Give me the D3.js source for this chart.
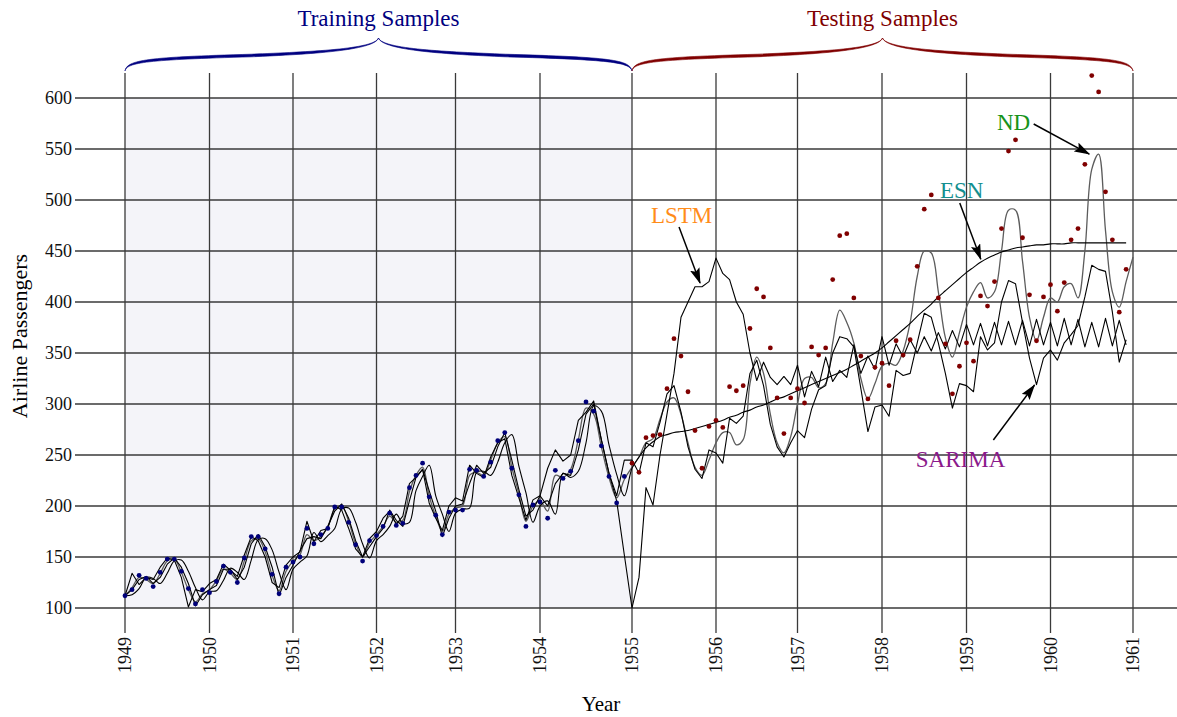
<!DOCTYPE html>
<html>
<head>
<meta charset="utf-8">
<title>Airline passengers - model forecasts</title>
<script src="https://cdn.jsdelivr.net/npm/d3@7"></script>
<style>
  body { margin: 0; background: #fff; }
  text { font-family: "Liberation Serif", "Times New Roman", serif; }
</style>
</head>
<body>
<div id="chart"></div>
<script>
// monthly values, Jan 1949 .. Dec 1960
var passengers = [
  112,118,132,129,121,135,148,148,136,119,104,118,
  115,126,141,135,125,149,170,170,158,133,114,140,
  145,150,178,163,172,178,199,199,184,162,146,166,
  171,180,193,181,183,218,230,242,209,191,172,194,
  196,196,236,235,229,243,264,272,237,211,180,201,
  204,188,235,227,234,264,302,293,259,229,203,229,
  242,233,267,269,270,315,364,347,312,274,237,278,
  284,277,317,313,318,374,413,405,355,306,271,306,
  315,301,356,348,355,422,465,467,404,347,305,336,
  340,318,362,348,363,435,491,505,404,359,310,337,
  360,342,406,396,420,472,548,559,463,407,362,405,
  417,391,419,461,472,535,622,606,508,461,390,432];

var sarima = [
  112,118,128,131,124,130,143,149,140,124,102,113,
  118,122,138,138,128,140,163,172,160,140,112,130,
  142,156,168,170,168,180,195,202,188,166,150,160,
  170,178,196,186,180,205,228,236,215,195,170,188,
  200,202,222,240,232,238,258,272,245,216,190,196,
  210,200,222,232,230,255,290,300,265,232,210,245,
  245,232,262,258,282,310,318,292,258,236,227,255,
  252,242,286,281,288,330,343,318,280,258,248,262,
  274,267,295,314,318,350,366,364,356,315,273,297,
  299,288,333,328,330,360,389,385,360,330,296,320,
  318,312,366,353,360,400,421,418,380,345,319,345,
  353,343,360,368,377,405,436,432,430,390,341,363];

var esn = [
  112,113,119,130,129,124,134,146,147,136,120,108,
  116,117,127,139,135,128,147,167,168,157,135,118,
  138,145,151,174,165,171,178,197,198,184,163,149,
  166,172,180,192,183,184,215,229,240,210,192,175,
  193,197,198,233,234,230,243,262,270,239,213,184,
  200,205,192,232,228,234,262,298,293,260,231,210,
  237,248,257,263,268,270,272,273,274,276,278,280,
  282,284,287,289,292,294,297,299,302,305,307,310,
  313,316,319,322,325,328,331,334,338,342,346,350,
  355,361,367,373,379,386,392,398,405,411,417,423,
  429,434,439,443,446,449,451,453,454,455,456,456,
  457,457,457,458,458,458,458,458,458,458,458,458];

var lstm = [
  112,134,123,130,128,140,149,147,130,101,118,116,
  124,128,143,137,131,152,170,166,150,125,120,142,
  150,155,185,165,176,178,200,196,178,158,150,168,
  175,188,195,182,190,222,228,236,203,188,176,200,
  208,205,240,232,228,248,262,266,230,208,186,206,
  210,237,255,244,250,284,292,303,265,232,205,152,
  100,130,218,201,250,290,330,385,400,415,415,420,
  443,428,422,400,388,350,323,341,326,319,327,319,
  338,307,332,317,346,322,333,326,358,330,347,334,
  366,338,359,346,363,350,366,352,370,354,372,356,
  378,358,379,357,380,358,381,358,382,357,383,358,
  380,357,384,358,383,356,380,356,384,357,382,358];

// ND runs one month further (Jan 1961)
var nd = [
  112,120,130,128,124,134,146,148,135,118,106,114,
  118,127,138,134,128,146,166,168,155,132,117,136,
  146,152,172,166,170,180,197,200,185,163,150,164,
  172,180,190,184,186,214,230,238,210,190,175,192,
  198,200,230,233,230,245,262,268,238,212,185,200,
  205,195,230,228,236,265,296,290,258,228,208,226,
  238,248,262,266,285,302,306,290,262,238,230,245,
  262,272,272,260,265,320,346,330,290,262,252,268,
  300,325,326,316,320,360,392,380,360,325,305,320,
  337,340,338,352,380,425,450,448,410,365,346,370,
  395,410,419,404,410,450,490,490,440,385,362,385,
  404,400,415,418,404,450,530,545,470,410,395,420,
  444];

var yearTicks = [1949,1950,1951,1952,1953,1954,1955,1956,1957,1958,1959,1960,1961];
var valueTicks = [100,150,200,250,300,350,400,450,500,550,600];
var splitYear = 1955;

var W = 1177, H = 717;
var svg = d3.select("#chart").append("svg")
  .attr("width", W).attr("height", H);

// year ticks in the original are not quite evenly spaced
var x = d3.scaleLinear()
  .domain(yearTicks)
  .range([125, 209.5, 293, 376.5, 455.5, 540, 632, 716, 797.5, 882, 966.5, 1050.5, 1133]);
var y = d3.scaleLinear().domain([100, 600]).range([608, 98]);
var monthX = function(i) { return x(1949 + i / 12); };

var gridTop = 73, tickBottom = 633, gridLeft = 75;
var gridColor = "#3a3a3a";

// training background
svg.append("rect")
  .attr("x", x(1949)).attr("y", y(600))
  .attr("width", x(splitYear) - x(1949))
  .attr("height", y(100) - y(600))
  .attr("fill", "#f4f4f9");

// horizontal grid + labels
svg.append("g").selectAll("line").data(valueTicks).join("line")
  .attr("x1", gridLeft).attr("x2", W)
  .attr("y1", function(d) { return y(d); }).attr("y2", function(d) { return y(d); })
  .attr("stroke", gridColor).attr("stroke-width", 1.3);
svg.append("g").selectAll("text").data(valueTicks).join("text")
  .attr("x", gridLeft - 3).attr("y", function(d) { return y(d); })
  .attr("dy", "0.35em").attr("text-anchor", "end")
  .attr("font-size", 18).attr("fill", "#111")
  .text(function(d) { return d; });

// vertical grid + year labels
svg.append("g").selectAll("line").data(yearTicks).join("line")
  .attr("x1", function(d) { return x(d); }).attr("x2", function(d) { return x(d); })
  .attr("y1", gridTop).attr("y2", tickBottom)
  .attr("stroke", gridColor).attr("stroke-width", 1.3);
svg.append("g").selectAll("text").data(yearTicks).join("text")
  .attr("transform", function(d) { return "translate(" + x(d) + "," + (tickBottom + 4) + ") rotate(-90)"; })
  .attr("dy", "0.35em").attr("text-anchor", "end")
  .attr("font-size", 18).attr("fill", "#111")
  .text(function(d) { return d; });

// axis titles
svg.append("text")
  .attr("transform", "translate(27,336) rotate(-90)")
  .attr("text-anchor", "middle").attr("font-size", 22)
  .text("Airline Passengers");
svg.append("text")
  .attr("x", 601).attr("y", 711)
  .attr("text-anchor", "middle").attr("font-size", 21)
  .text("Year");

// model lines
var straight = d3.line()
  .x(function(d, i) { return monthX(i); })
  .y(function(d) { return y(d); });
var smooth = d3.line()
  .x(function(d, i) { return monthX(i); })
  .y(function(d) { return y(d); })
  .curve(d3.curveCatmullRom.alpha(0.5));

var models = [
  { values: nd,     gen: smooth,   color: "#5c5c5c", width: 1.3 },
  { values: esn,    gen: smooth,   color: "#000",    width: 1.1 },
  { values: sarima, gen: straight, color: "#000",    width: 1.1 },
  { values: lstm,   gen: straight, color: "#000",    width: 1.1 }
];
svg.append("g").selectAll("path").data(models).join("path")
  .attr("d", function(m) { return m.gen(m.values); })
  .attr("fill", "none")
  .attr("stroke", function(m) { return m.color; })
  .attr("stroke-width", function(m) { return m.width; })
  .attr("stroke-linejoin", "round");

// samples
var pts = passengers.map(function(v, i) { return { i: i, v: v, test: 1949 + i / 12 >= splitYear }; });
svg.append("g").selectAll("circle").data(pts).join("circle")
  .attr("cx", function(d) { return monthX(d.i); })
  .attr("cy", function(d) { return y(d.v); })
  .attr("r", 2.4)
  .attr("fill", function(d) { return d.test ? "#800000" : "#00007a"; });

// curly braces over the two periods
function brace(x1, x2, color) {
  var xm = (x1 + x2) / 2, yEnd = 71, yTip = 38, d = 1.3;
  function half(flip) {
    var f = function(px) { return flip ? x1 + x2 - px : px; };
    var xq = x1 + (xm - x1) * 0.5;
    function edge(o) {
      return [
        [f(x1 + 2), 61 + o], [f(x1 + 22), 58.5 + o], [f(xq), 55.5 + o],
        [f(xm - 70), 53 + o], [f(xm - 4), 50 + o * 0.5]
      ];
    }
    var t = edge(-d), b = edge(d);
    return "M" + f(x1) + "," + yEnd +
      "C" + t[0] + " " + t[1] + " " + t[2] +
      "C" + t[3] + " " + t[4] + " " + f(xm) + "," + yTip +
      "C" + b[4] + " " + b[3] + " " + b[2] +
      "C" + b[1] + " " + b[0] + " " + f(x1) + "," + yEnd + "Z";
  }
  svg.append("path").attr("d", half(false) + half(true))
    .attr("fill", color).attr("stroke", color).attr("stroke-width", 0.6);
}
brace(x(1949), x(splitYear), "#000080");
brace(x(splitYear), x(1961), "#800000");

svg.append("text").attr("x", (x(1949) + x(splitYear)) / 2).attr("y", 26)
  .attr("text-anchor", "middle").attr("font-size", 23).attr("fill", "#000080")
  .text("Training Samples");
svg.append("text").attr("x", (x(splitYear) + x(1961)) / 2).attr("y", 26)
  .attr("text-anchor", "middle").attr("font-size", 23).attr("fill", "#800000")
  .text("Testing Samples");

// model annotations (year, passengers)
var notes = [
  { label: "LSTM",   color: "#ff8c1a", at: [1955.226, 477.5], from: [1955.56, 473.5], to: [1955.81, 418.6] },
  { label: "ND",     color: "#17931a", at: [1959.363, 568.6], from: [1959.80, 574.5], to: [1960.47, 545] },
  { label: "ESN",    color: "#148f8f", at: [1958.686, 502],   from: [1958.92, 497],   to: [1959.17, 442] },
  { label: "SARIMA", color: "#8b1a8b", at: [1958.40, 238.2],  from: [1959.32, 264.7], to: [1959.81, 318.6] }
];

svg.append("defs").append("marker")
  .attr("id", "head").attr("viewBox", "0 -5 16 10")
  .attr("refX", 15).attr("refY", 0)
  .attr("markerUnits", "userSpaceOnUse")
  .attr("markerWidth", 16).attr("markerHeight", 10)
  .attr("orient", "auto")
  .append("path").attr("d", "M0,-5L16,0L0,5L3,0Z").attr("fill", "#000");

var ann = svg.append("g");
ann.selectAll("line").data(notes).join("line")
  .attr("x1", function(d) { return x(d.from[0]); }).attr("y1", function(d) { return y(d.from[1]); })
  .attr("x2", function(d) { return x(d.to[0]); }).attr("y2", function(d) { return y(d.to[1]); })
  .attr("stroke", "#000").attr("stroke-width", 1.5)
  .attr("marker-end", "url(#head)");
ann.selectAll("text").data(notes).join("text")
  .attr("x", function(d) { return x(d.at[0]); }).attr("y", function(d) { return y(d.at[1]); })
  .attr("font-size", 23).attr("fill", function(d) { return d.color; })
  .text(function(d) { return d.label; });
</script>
</body>
</html>
